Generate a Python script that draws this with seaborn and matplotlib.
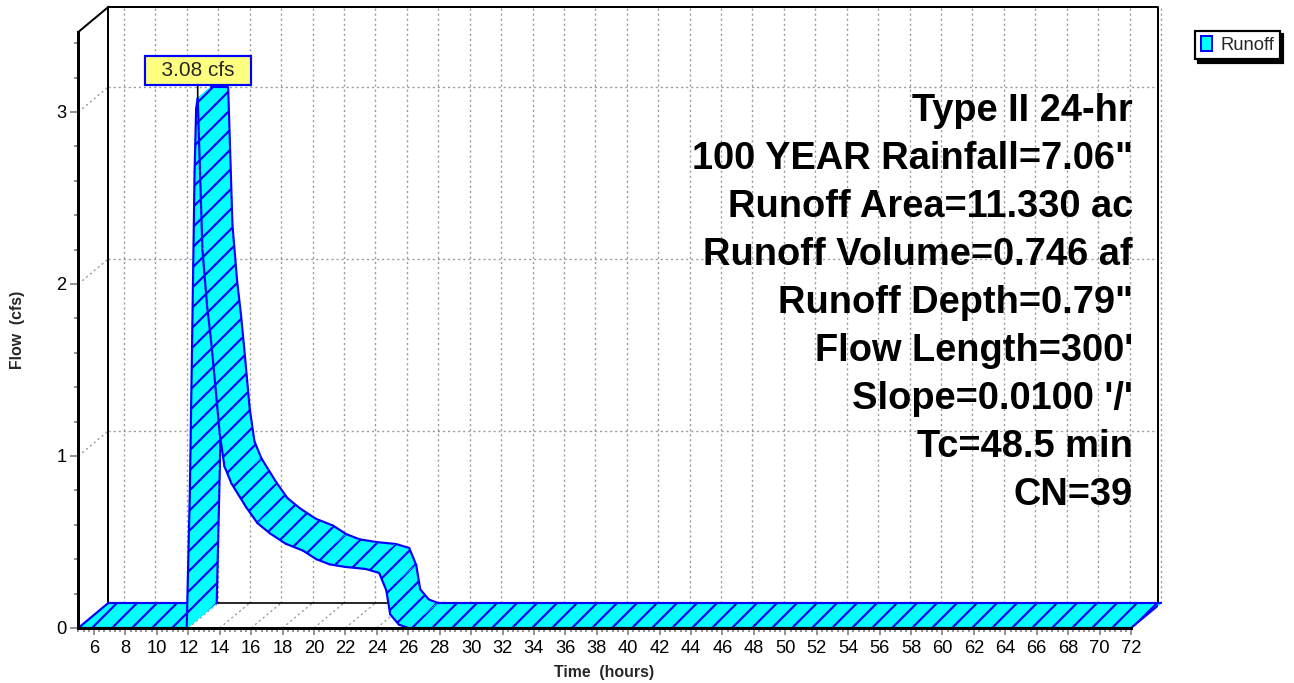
import numpy as np
import pandas as pd
import seaborn as sns
import matplotlib.pyplot as plt
from matplotlib.patches import Polygon, Rectangle, Patch
from matplotlib.ticker import FixedLocator

# --- data (front edge of the ribbon) ---
time_hr = [5.0, 11.9, 12.1, 12.25, 12.4, 12.5, 12.6, 12.9, 13.2, 13.45, 13.65, 14.0,
           14.3, 14.75, 15.7, 16.4, 17.2, 18.2, 19.3, 20.15, 21.0, 22.0, 23.3, 24.15,
           24.6, 24.85, 25.4, 26.0, 72.0]
flow_cfs = [0.0, 0.0, 0.79, 1.7, 2.65, 3.02, 3.08, 2.2, 1.87, 1.67, 1.48, 1.13,
            0.94, 0.84, 0.70, 0.61, 0.55, 0.49, 0.45, 0.40, 0.37, 0.355, 0.343, 0.32,
            0.22, 0.08, 0.02, 0.0, 0.0]
peak_label = "3.08 cfs"
x_ticks = list(range(6, 73, 2))
y_ticks = [0, 1, 2, 3]
info_lines = ["Type II 24-hr", '100 YEAR Rainfall=7.06"', "Runoff Area=11.330 ac",
              "Runoff Volume=0.746 af", 'Runoff Depth=0.79"', "Flow Length=300'",
              "Slope=0.0100 '/'", "Tc=48.5 min", "CN=39"]
series_name = "Runoff"

df = pd.DataFrame({"t": time_hr, "q": flow_cfs})

# --- style ---
sns.set_theme(style="ticks")
plt.rcParams["font.family"] = ["Liberation Sans", "DejaVu Sans"]
plt.rcParams["hatch.linewidth"] = 1.3

CYAN, BLUE, GRID = "#00FFFF", "#0000FF", "#9A9A9A"
W, H, DPI = 1294, 683, 120

fig = plt.figure(figsize=(W / DPI, H / DPI), dpi=DPI)
fig.set_facecolor("white")

# axes box covers the whole pseudo-3D frame
X0, PX_HR = 5.0, 15.712       # front axis starts at 5 hr
PX_CFS = 172.0
left_px, right_px, bot_px, top_px = 78.3, 1158, 628, 7
ax = fig.add_axes([left_px / W, 1 - bot_px / H, (right_px - left_px) / W, (bot_px - top_px) / H])
XMAX = X0 + (right_px - left_px) / PX_HR
YMAX = (bot_px - top_px) / PX_CFS
ax.set_xlim(X0, XMAX)
ax.set_ylim(0, YMAX)
ax.set_facecolor("none")

DX = 30 / PX_HR     # depth offset of back wall (hours)
DY = 25 / PX_CFS    # depth offset of back wall (cfs)
YFRONT = YMAX - DY

# spines = front axes
for s in ["top", "right"]:
    ax.spines[s].set_visible(False)
for s in ["left", "bottom"]:
    ax.spines[s].set_linewidth(1.8)
    ax.spines[s].set_color("black")
    ax.spines[s].set_zorder(60)
ax.spines["left"].set_bounds(0, YFRONT)
ax.spines["bottom"].set_bounds(X0, x_ticks[-1])

ax.set_xticks(x_ticks)
ax.set_yticks(y_ticks)
ax.xaxis.set_minor_locator(FixedLocator(np.arange(X0, x_ticks[-1] + 0.01, 1 / 3)))
ax.yaxis.set_minor_locator(FixedLocator(np.arange(0, YFRONT, 0.2)))
ax.tick_params(axis="both", which="both", direction="out", color="#808080", width=1.0,
               labelsize=11, labelcolor="black", bottom=True, left=True)
ax.tick_params(axis="x", which="major", length=4.2, pad=3)
ax.tick_params(axis="x", which="minor", length=2.1)
ax.tick_params(axis="y", which="major", length=5, pad=2)
ax.tick_params(axis="y", which="minor", length=2.5)

# --- grid on back wall, floor and left wall ---
gkw = dict(color=GRID, lw=0.8, ls=(0, (1.6, 2.2)), zorder=1, clip_on=False)
for x in x_ticks:
    ax.plot([x + DX, x + DX], [DY, YMAX], **gkw)
    ax.plot([x, x + DX], [0, DY], **gkw)
for y in y_ticks[1:]:
    ax.plot([X0 + DX, XMAX], [y + DY, y + DY], **gkw)
    ax.plot([X0, X0 + DX], [y, y + DY], **gkw)

# back wall frame
fkw = dict(color="black", lw=1.2, zorder=2, clip_on=False, solid_capstyle="projecting")
ax.plot([X0 + DX, X0 + DX, XMAX, XMAX], [DY, YMAX, YMAX, DY], **fkw)
ax.plot([X0 + DX, XMAX], [DY, DY], color="black", lw=1.0, zorder=2, clip_on=False)
ax.plot([X0, X0 + DX], [YFRONT, YMAX], **fkw)

# --- 3D ribbon, drawn segment by segment from left to right ---
YCLIP = y_ticks[-1] + DY
clip = Rectangle((0, -1), 200, 1 + YCLIP, transform=ax.transData)
t = df["t"].to_numpy()
q = df["q"].to_numpy()
z = 10.0
for i in range(len(t) - 1):
    quad = [(t[i], q[i]), (t[i + 1], q[i + 1]),
            (t[i + 1] + DX, q[i + 1] + DY), (t[i] + DX, q[i] + DY)]
    arts = [
        ax.add_patch(Polygon(quad, closed=True, facecolor=CYAN, edgecolor=CYAN, lw=0.6, zorder=z)),
        ax.add_patch(Polygon(quad, closed=True, facecolor="none", edgecolor=BLUE, hatch="//",
                             lw=0, zorder=z + 0.001)),
    ]
    arts += ax.plot([t[i], t[i + 1]], [q[i], q[i + 1]], color=BLUE, lw=1.3,
                    zorder=z + 0.002, solid_capstyle="round")
    arts += ax.plot([t[i] + DX, t[i + 1] + DX], [q[i] + DY, q[i + 1] + DY], color=BLUE,
                    lw=1.3, zorder=z + 0.002, solid_capstyle="round")
    for a in arts:
        a.set_clip_path(clip)
    z += 0.01
# end caps
for k in (0, -1):
    ax.plot([t[k], t[k] + DX], [q[k], q[k] + DY], color=BLUE, lw=1.3, zorder=z)

# flat top where the peak is cut at the back-wall grid line
tt = np.linspace(t[0], t[-1], 40000)
qq = np.interp(tt, t, q)
xs = []
for s in np.linspace(0, 1, 101):
    m = qq + s * DY >= YCLIP
    if m.any():
        xs.extend([tt[m].min() + s * DX, tt[m].max() + s * DX])
if xs:
    ax.plot([min(xs), max(xs)], [YCLIP, YCLIP], color=BLUE, lw=1.3, zorder=z)

# peak label
ip = int(np.argmax(q))
ax.annotate("  " + peak_label + "  ", xy=(t[ip], q[ip]), xytext=(0, 16.8),
            textcoords="offset points", ha="center", va="center", fontsize=12.5,
            bbox=dict(boxstyle="square,pad=0.25", fc="#FFFF80", ec=BLUE, lw=1.3),
            arrowprops=dict(arrowstyle="-", color="black", lw=1.0, shrinkA=0, shrinkB=0),
            zorder=70, annotation_clip=False)

# info text block
for k, line in enumerate(info_lines):
    fig.text(1133 / W, 1 - (111 + 48 * k) / H, line, ha="right", va="center",
             fontsize=22.8, fontweight="bold", color="black", zorder=80)

# axis labels
ax.set_xlabel("Time  (hours)", fontsize=9.5, fontweight="bold")
ax.xaxis.set_label_coords((604 - left_px) / (right_px - left_px), -(672 - bot_px) / (bot_px - top_px))
ax.xaxis.label.set_va("center")
ax.set_ylabel("Flow  (cfs)", fontsize=9.5, fontweight="bold")
ax.yaxis.set_label_coords(-(left_px - 18) / (right_px - left_px), (bot_px - 330) / (bot_px - top_px))
ax.yaxis.label.set_va("center")

# legend
leg = fig.legend(handles=[Patch(facecolor=CYAN, edgecolor=BLUE, lw=1.2)], labels=[series_name],
                 loc="upper left", bbox_to_anchor=(1195 / W, 1 - 31 / H), borderaxespad=0,
                 fontsize=11, frameon=True, fancybox=False, edgecolor="black",
                 shadow={"color": "black", "alpha": 1}, borderpad=0.3,
                 handlelength=0.6, handleheight=0.8, handletextpad=0.5)
leg.get_frame().set_linewidth(1.3)

fig.savefig("out.png", dpi=DPI)
